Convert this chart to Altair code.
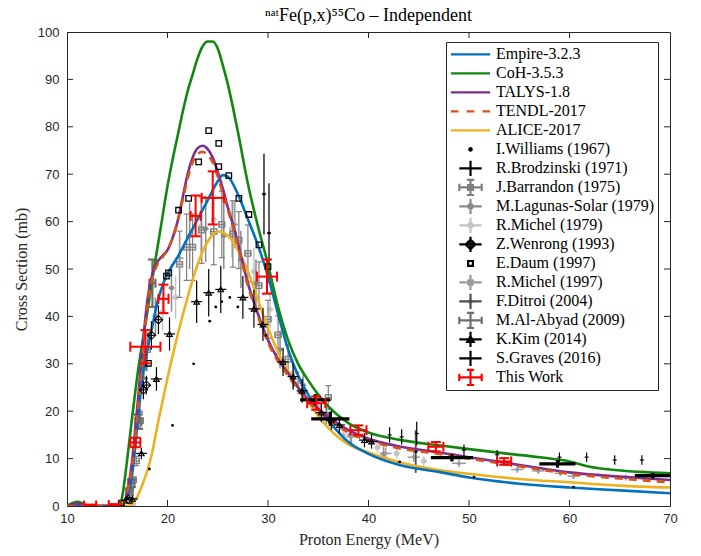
import altair as alt
import pandas as pd

# ---------------- model curves ----------------
empire_E = [10, 15, 15.5, 16, 16.5, 17, 17.5, 18, 18.5, 19, 19.5, 20, 21, 22, 23, 24, 25, 25.5, 26, 27, 28, 29, 30, 31, 32, 33, 34, 35, 36, 38, 40, 43, 47, 50, 55, 60, 65, 70]
empire_xs = [0, 0, 0.2, 2, 7, 17, 27, 33, 38, 43, 46.5, 49, 52.5, 56.5, 60.5, 64.5, 68.5, 69.8, 69.5, 65.8, 60.5, 55, 48.5, 40.5, 33, 27.5, 23.5, 20.5, 18, 13.5, 11, 8.7, 7.2, 6, 4.7, 3.9, 3.3, 2.7]

coh_E = [10, 10.5, 11, 11.5, 12, 12.5, 15.3, 15.5, 16, 16.5, 17, 17.5, 18, 18.5, 19, 19.5, 20, 20.5, 21, 21.5, 22, 22.5, 23, 23.5, 24, 24.5, 25, 25.5, 26, 26.5, 27, 28, 29, 30, 31, 32, 33, 34, 35, 36, 38, 40, 43, 47, 50, 54, 57, 60, 62, 64, 67, 70]
coh_xs = [0, 0.6, 0.9, 0.6, 0.1, 0, 0, 2, 10, 19, 27.5, 34.5, 41, 48, 54.5, 61, 67.5, 73, 78, 83, 87.5, 91, 94.5, 97, 98, 98, 96.5, 93, 89, 84.2, 79, 68, 59, 51, 42, 35, 30, 26.5, 23.5, 21, 17.5, 15.5, 14, 12.8, 12, 11, 10.3, 9.4, 8.3, 7.7, 7.2, 6.9]

talys_E = [10, 10.5, 11, 11.5, 12, 15.5, 16, 16.5, 17, 17.5, 18, 18.5, 19, 19.5, 20, 20.5, 21, 21.5, 22, 22.5, 23, 23.5, 24, 24.5, 25, 25.5, 26, 26.5, 27, 28, 29, 30, 31, 32, 33, 34, 35, 36, 38, 40, 43, 47, 50, 54, 57, 60, 65, 70]
talys_xs = [0, 0.3, 0.5, 0.3, 0.05, 0, 3, 10, 21, 33, 43.5, 49, 51.5, 52.8, 54, 56.5, 60, 65, 70, 73.5, 75.5, 76, 75.3, 73.5, 70.5, 67, 63, 59.5, 55.5, 47, 40.5, 35, 31, 28, 25, 22.5, 20.5, 18.8, 16, 14.2, 12.6, 11.3, 10.3, 9, 8, 7.1, 6.2, 5.5]

tendl_E = [10, 15.5, 16, 16.5, 17, 17.5, 18, 18.5, 19, 19.5, 20, 20.5, 21, 21.5, 22, 22.5, 23, 23.5, 24, 24.5, 25, 25.5, 26, 26.5, 27, 28, 29, 30, 31, 32, 33, 34, 35, 36, 38, 40, 43, 47, 50, 54, 57, 60, 65, 70]
tendl_xs = [0, 0, 3, 9, 19, 31, 42, 48, 51, 52.5, 54, 56.5, 60, 64.5, 69, 72.5, 74.3, 74.7, 74, 72.5, 69.5, 66, 62.5, 59, 55, 46.5, 40, 34.5, 30.5, 27.5, 24.5, 22, 20, 18.3, 15.5, 13.8, 12.2, 11, 10, 8.7, 7.7, 6.8, 5.8, 5.0]

alice_E = [10, 16, 16.5, 17, 17.5, 18, 18.5, 19, 19.5, 20, 21, 22, 23, 24, 25, 26, 27, 28, 29, 30, 31, 32, 33, 34, 35, 36, 38, 40, 43, 47, 50, 55, 60, 65, 70]
alice_xs = [0, 0, 0.5, 2, 4.5, 7.5, 11.5, 17, 22, 27, 36, 44, 51, 55.8, 57.9, 57, 54, 49.5, 43.5, 37.5, 32.5, 28.5, 25, 22, 19, 16.5, 13, 11.3, 9.3, 7.6, 6.8, 5.7, 5.0, 4.3, 3.9]

# ---------------- experimental data ----------------
will_E = [18.2, 20.5, 22.6, 24.2, 24.8, 25.4, 26.2, 27.0, 29.8, 43.1, 50.5, 60.4]
will_xs = [7.8, 17.0, 30.0, 39.0, 42.0, 43.1, 44.0, 42.0, 36.0, 9.3, 6.1, 4.0]

brod_E = [42.1, 43.3, 44.8, 49.5, 52.8, 59.0, 61.7, 64.5, 67.2]
brod_xs = [15.0, 14.6, 15.3, 11.8, 10.8, 10.3, 10.3, 9.7, 9.7]
brod_dE = [0.2] * 9
brod_dxs = [1.6, 1.6, 2.5, 1.2, 1.0, 1.0, 1.0, 1.0, 1.0]

barr_E = [16.3, 16.6, 16.9, 17.3, 18.0, 21.2, 21.9, 22.5, 23.4, 24.6, 25.4, 26.5, 27.1, 28.0, 29.1, 30.0, 31.0, 32.0, 36.0]
barr_xs = [3.5, 5.5, 9.5, 18.0, 33.0, 51.0, 54.6, 54.6, 58.2, 57.9, 59.4, 57.4, 56.1, 53.3, 46.5, 39.4, 36.1, 31.0, 22.9]
barr_dE = [0.3] * 19
barr_dxs = [0.5, 0.6, 1.0, 1.8, 3.5, 7, 7, 7, 7, 7, 7, 7, 6, 6, 5, 4, 4, 3, 2.5]

lag_E = [17.2, 18.8, 20.4, 22.2, 23.8, 25.6, 27.3, 28.8, 31.2, 33.5, 35.8, 38.2, 41.5]
lag_xs = [20.0, 40.0, 46.0, 57.0, 58.5, 57.0, 52.0, 47.0, 33.0, 25.5, 19.5, 15.0, 11.0]
lag_dE = [0.3] * 13
lag_dxs = [2, 4, 5, 7, 7, 7, 6, 5, 4, 3, 2.5, 2, 1.5]

mic79_E = [16.6, 19.5, 20.8, 23.3, 24.6, 26.4, 28.6, 30.2, 32.5, 35.0, 37.5, 40.9, 42.8, 45.5]
mic79_xs = [0.5, 41.0, 44.0, 59.0, 60.5, 58.5, 49.5, 41.5, 28.0, 21.0, 15.0, 12.4, 11.1, 9.5]
mic79_dE = [0.3] * 14
mic79_dxs = [0.2, 4, 4.5, 6, 6, 6, 5, 4, 3, 2, 1.5, 1.2, 1.1, 1.0]

wen_E = [16.1, 17.6, 17.9, 18.4, 19.1]
wen_xs = [1.4, 24.5, 25.5, 36.0, 39.3]
wen_dE = [0.4] * 5
wen_dxs = [0.3, 2, 2, 3, 3]

daum_E = [15.4, 16.2, 18.1, 19.9, 20.1, 21.1, 22.1, 23.1, 24.1, 25.1, 25.1, 26.1, 27.1, 28.1, 29.1, 30.0]
daum_xs = [0.6, 1.2, 30.1, 48.5, 49.2, 62.4, 64.9, 72.6, 79.2, 76.5, 71.6, 69.7, 64.9, 61.5, 55.1, 50.5]

mic97_E = [21.2, 26.7, 33.0, 38.3, 41.7, 44.5, 49.0, 54.8, 56.9, 59.1, 60.4, 65.6]
mic97_xs = [52.3, 59.4, 26.0, 14.6, 11.1, 10.3, 9.0, 7.7, 7.4, 6.9, 6.3, 6.0]
mic97_dE = [0.4, 0.4, 0.4, 0.5, 0.6, 0.6, 0.7, 0.6, 0.6, 0.6, 0.6, 0.6]
mic97_dxs = [5, 5, 2.5, 1.5, 1.2, 1.0, 0.8, 0.7, 0.7, 0.6, 0.6, 0.6]

dit_E = [29.6, 30.1, 44.7]
dit_xs = [65.8, 57.6, 11.5]
dit_dE = [0.2, 0.2, 0.2]
dit_dxs = [8.5, 10.5, 4.5]

aby_E = [16.2, 16.4, 17.1, 17.6, 18.5]
aby_xs = [3.0, 4.8, 17.8, 29.4, 47.0]
aby_dE = [0.3] * 5
aby_dxs = [0.6, 0.8, 1.5, 2.5, 5.0]

kim_E = [16.5, 17.4, 18.9, 20.2, 22.9, 24.1, 25.3, 27.5, 28.6, 29.5, 31.5, 32.5, 33.4, 35.3, 36.3, 37.1, 39.6, 40.3]
kim_xs = [1.5, 11.1, 26.8, 36.3, 43.1, 45.0, 45.7, 44.0, 41.6, 38.3, 30.4, 27.3, 24.3, 19.7, 18.1, 17.1, 13.9, 13.6]
kim_dE = [0.55] * 18
kim_dxs = [0.3, 1.2, 2.5, 3.5, 4.5, 5, 5, 4.5, 4, 3.5, 3, 2.8, 2.5, 2, 2, 1.8, 1.5, 1.5]

grav_E = [34.7, 36.2, 48.3, 58.8, 68.3]
grav_dE = [1.5, 1.9, 2.1, 1.8, 1.8]
grav_xs = [22.4, 18.4, 10.2, 8.9, 6.4]
grav_dxs = [1.2, 1.5, 0.8, 0.8, 0.6]

tw_E = [12.3, 14.7, 16.8, 17.8, 19.6, 22.8, 24.5, 29.9, 34.8, 39.0, 46.7, 53.5]
tw_dE = [0.6, 0.55, 0.5, 1.5, 0.5, 0.5, 1.1, 1.0, 0.9, 0.8, 0.75, 0.7]
tw_xs = [0.1, 0.2, 13.4, 33.6, 43.7, 61.2, 65.0, 48.4, 21.7, 16.0, 12.5, 9.4]
tw_dxs = [0.2, 0.2, 1.0, 3.5, 3.0, 4.3, 5.6, 3.6, 1.4, 1.0, 1.0, 0.7]

# ---------------- legend entries ----------------
legend_names = ["Empire-3.2.3", "CoH-3.5.3", "TALYS-1.8", "TENDL-2017", "ALICE-2017",
                "I.Williams (1967)", "R.Brodzinski (1971)", "J.Barrandon (1975)",
                "M.Lagunas-Solar (1979)", "R.Michel (1979)", "Z.Wenrong (1993)",
                "E.Daum (1997)", "R.Michel (1997)", "F.Ditroi (2004)", "M.Al-Abyad (2009)",
                "K.Kim (2014)", "S.Graves (2016)", "This Work"]
legend_colors = ["#0072BD", "#12870F", "#7E2F8E", "#D95319", "#EDB120",
                 "#000000", "#000000", "#7f7f7f", "#8a8a8a", "#c4c4c4", "#000000",
                 "#000000", "#9a9a9a", "#4d4d4d", "#6e6e6e", "#000000", "#000000", "#ff0000"]

C_EMP, C_COH, C_TAL, C_TEN, C_ALI = legend_colors[:5]
C_BARR, C_LAG, C_M79 = legend_colors[7], legend_colors[8], legend_colors[9]
C_M97, C_DIT, C_ABY = legend_colors[12], legend_colors[13], legend_colors[14]

LINE = "M-2.45,0L2.45,0"
DASH = "M-2.45,0L-1.5,0M-0.48,0L0.48,0M1.5,0L2.45,0"
PLUS = "M-1.4,0L1.4,0M0,-0.95L0,0.95"
CAPS = "M-1.4,-0.45L-1.4,0.45M1.4,-0.45L1.4,0.45M-0.45,-0.95L0.45,-0.95M-0.45,0.95L0.45,0.95"
SQ = "M-0.3,-0.3L0.3,-0.3L0.3,0.3L-0.3,0.3Z"
CIRC = "M-0.28,0A0.28,0.28 0 1,0 0.28,0A0.28,0.28 0 1,0 -0.28,0Z"
DOT = "M-0.15,0A0.15,0.15 0 1,0 0.15,0A0.15,0.15 0 1,0 -0.15,0Z"
DIAM = "M0,-0.6L0.6,0L0,0.6L-0.6,0Z"
AST = "M-0.35,-0.35L0.35,0.35M-0.35,0.35L0.35,-0.35"
TRI = "M0,-0.4L0.4,0.3L-0.4,0.3Z"
legend_paths = [LINE, LINE, LINE, DASH, LINE,
                DOT, PLUS, PLUS + CAPS + SQ, PLUS + CIRC, PLUS + CIRC, PLUS + DIAM,
                SQ, PLUS + AST, PLUS + DOT, PLUS + CAPS, PLUS + TRI, PLUS, PLUS + CAPS]

# ---------------- chart helpers ----------------
AXC = "#262626"
SANS = "Liberation Sans"
SERIF = "Liberation Serif"
XSC = alt.Scale(domain=[10, 70], nice=False, zero=False)
YSC = alt.Scale(domain=[0, 100], nice=False, zero=False)
XAX = alt.Axis(values=list(range(10, 71, 10)), title="Proton Energy (MeV)", grid=False, ticks=False,
               labelFont=SANS, labelFontSize=13, labelColor=AXC, labelPadding=6, domainColor=AXC,
               titleFont=SERIF, titleFontSize=16, titleFontWeight="normal", titleColor=AXC,
               titlePadding=6, labelFlush=False)
YAX = alt.Axis(values=list(range(0, 101, 10)), title="Cross Section (mb)", grid=False, ticks=False,
               labelFont=SANS, labelFontSize=13, labelColor=AXC, labelPadding=8, domainColor=AXC,
               titleFont=SERIF, titleFontSize=16, titleFontWeight="normal", titleColor=AXC,
               titlePadding=8, labelFlush=False)


def X(f):
    return alt.X(f, type="quantitative", scale=XSC, axis=XAX)


def Y(f):
    return alt.Y(f, type="quantitative", scale=YSC, axis=YAX)


def frame(E, xs, dE=None, dxs=None):
    df = pd.DataFrame({"E": E, "xs": xs})
    df["dE"] = dE if dE is not None else 0
    df["dxs"] = dxs if dxs is not None else 0
    df["Elo"] = df["E"] - df["dE"]
    df["Ehi"] = df["E"] + df["dE"]
    df["ylo"] = df["xs"] - df["dxs"]
    df["yhi"] = df["xs"] + df["dxs"]
    return df


def bars(df, color, width, cap=0, vcap=None):
    base = alt.Chart(df)
    out = [
        base.mark_rule(color=color, strokeWidth=width, clip=True).encode(x=X("E"), y=Y("ylo"), y2="yhi"),
        base.mark_rule(color=color, strokeWidth=width, clip=True).encode(x=X("Elo"), x2="Ehi", y=Y("xs")),
    ]
    if cap:
        for f in ["ylo", "yhi"]:
            out.append(base.mark_tick(orient="horizontal", size=cap, thickness=width, color=color,
                                      opacity=1, clip=True).encode(x=X("E"), y=Y(f)))
        for f in ["Elo", "Ehi"]:
            out.append(base.mark_tick(orient="vertical", size=vcap or cap, thickness=width, color=color,
                                      opacity=1, clip=True).encode(x=X(f), y=Y("xs")))
    return out


def model(E, xs, color, dash=None):
    df = pd.DataFrame({"E": E, "xs": xs})
    kw = dict(color=color, strokeWidth=2.6, interpolate="monotone", clip=True)
    if dash:
        kw["strokeDash"] = dash
    return alt.Chart(df).mark_line(**kw).encode(x=X("E"), y=Y("xs"))


layers = []

# gray / black experimental data
d = frame(mic79_E, mic79_xs, mic79_dE, mic79_dxs)
layers += bars(d, C_M79, 1.5)
layers.append(alt.Chart(d).mark_circle(color=C_M79, size=28, opacity=1, clip=True).encode(x=X("E"), y=Y("xs")))

d = frame(lag_E, lag_xs, lag_dE, lag_dxs)
layers += bars(d, C_LAG, 1.5)
layers.append(alt.Chart(d).mark_circle(color=C_LAG, size=24, opacity=1, clip=True).encode(x=X("E"), y=Y("xs")))

d = frame(barr_E, barr_xs, barr_dE, barr_dxs)
layers += bars(d, C_BARR, 1.2, cap=6)
layers.append(alt.Chart(d).mark_point(shape="square", color=C_BARR, size=30, filled=False, strokeWidth=1.2,
                                      opacity=1, clip=True).encode(x=X("E"), y=Y("xs")))

d = frame(mic97_E, mic97_xs, mic97_dE, mic97_dxs)
layers += bars(d, C_M97, 1.5)
layers.append(alt.Chart(d).mark_point(shape=AST, color=C_M97, size=60, filled=False, strokeWidth=1.3,
                                      opacity=1, clip=True).encode(x=X("E"), y=Y("xs")))

d = frame(aby_E, aby_xs, aby_dE, aby_dxs)
layers += bars(d, C_ABY, 2.2, cap=9)

d = frame(dit_E, dit_xs, dit_dE, dit_dxs)
layers += bars(d, C_DIT, 1.8)
layers.append(alt.Chart(d).mark_circle(color="#000000", size=10, opacity=1, clip=True).encode(x=X("E"), y=Y("xs")))

# models
layers.append(model(alice_E, alice_xs, C_ALI))
layers.append(model(empire_E, empire_xs, C_EMP))
layers.append(model(coh_E, coh_xs, C_COH))
layers.append(model(talys_E, talys_xs, C_TAL))
layers.append(model(tendl_E, tendl_xs, C_TEN, dash=[8, 6]))

d = frame(brod_E, brod_xs, brod_dE, brod_dxs)
layers += bars(d, "#000000", 1.2)

d = frame(wen_E, wen_xs, wen_dE, wen_dxs)
layers += bars(d, "#000000", 1.2)
layers.append(alt.Chart(d).mark_point(shape="diamond", color="#000000", size=70, filled=False, strokeWidth=1.1,
                                      opacity=1, clip=True).encode(x=X("E"), y=Y("xs")))

d = frame(kim_E, kim_xs, kim_dE, kim_dxs)
layers += bars(d, "#000000", 1.2)
layers.append(alt.Chart(d).mark_point(shape="triangle-up", color="#000000", size=30, filled=False, strokeWidth=1.2,
                                      opacity=1, clip=True).encode(x=X("E"), y=Y("xs")))

d = frame(daum_E, daum_xs)
layers.append(alt.Chart(d).mark_point(shape="square", color="#000000", size=30, filled=False, strokeWidth=1.3,
                                      opacity=1, clip=True).encode(x=X("E"), y=Y("xs")))

d = frame(will_E, will_xs)
layers.append(alt.Chart(d).mark_circle(color="#000000", size=8, opacity=1, clip=True).encode(x=X("E"), y=Y("xs")))

d = frame(grav_E, grav_xs, grav_dE, grav_dxs)
layers += bars(d, "#000000", 3.2)

d = frame(tw_E, tw_xs, tw_dE, tw_dxs)
layers += bars(d, "#ff0000", 2.0, cap=10)

# inner tick marks (MATLAB style)
xt = pd.DataFrame({"v": [20, 30, 40, 50, 60]})
yt = pd.DataFrame({"v": [10, 20, 30, 40, 50, 60, 70, 80, 90]})
layers.append(alt.Chart(xt).mark_rule(color=AXC).encode(x=X("v"), y=alt.value(474), y2=alt.value(468)))
layers.append(alt.Chart(xt).mark_rule(color=AXC).encode(x=X("v"), y=alt.value(0), y2=alt.value(6)))
layers.append(alt.Chart(yt).mark_rule(color=AXC).encode(y=Y("v"), x=alt.value(0), x2=alt.value(6)))
layers.append(alt.Chart(yt).mark_rule(color=AXC).encode(y=Y("v"), x=alt.value(603), x2=alt.value(597)))

# legend (hidden points, clipped away; only drive the legend)
leg_props = dict(orient="none", legendX=379, legendY=10, title=None, labelFont=SERIF, labelFontSize=16,
                 labelColor="#000000", symbolSize=256, symbolStrokeWidth=2.2, symbolOffset=12, labelOffset=16,
                 padding=3, rowPadding=0, clipHeight=18.8, fillColor="#ffffff", strokeColor=AXC, labelLimit=400)
leg_df = pd.DataFrame({"series": legend_names, "E": [0.0] * len(legend_names), "xs": [-50.0] * len(legend_names)})
layers.append(
    alt.Chart(leg_df).mark_point(filled=False, clip=True, opacity=1).encode(
        x=X("E"), y=Y("xs"),
        color=alt.Color("series:N", scale=alt.Scale(domain=legend_names, range=legend_colors),
                        legend=alt.Legend(**leg_props)),
        shape=alt.Shape("series:N", scale=alt.Scale(domain=legend_names, range=legend_paths),
                        legend=alt.Legend(**leg_props)),
    )
)

chart = alt.layer(*layers).properties(
    width=603, height=474,
    title=alt.TitleParams(text="ⁿᵃᵗFe(p,x)⁵⁵Co – Independent", font=SERIF, fontSize=18,
                          fontWeight="normal", color="#000000", anchor="middle", offset=1),
    autosize=alt.AutoSizeParams(type="none"),
    padding={"left": 67, "top": 32, "right": 31, "bottom": 50},
).configure_view(stroke=AXC, strokeWidth=1)

chart.save("out.html", embed_options={"renderer": "svg", "actions": False})
